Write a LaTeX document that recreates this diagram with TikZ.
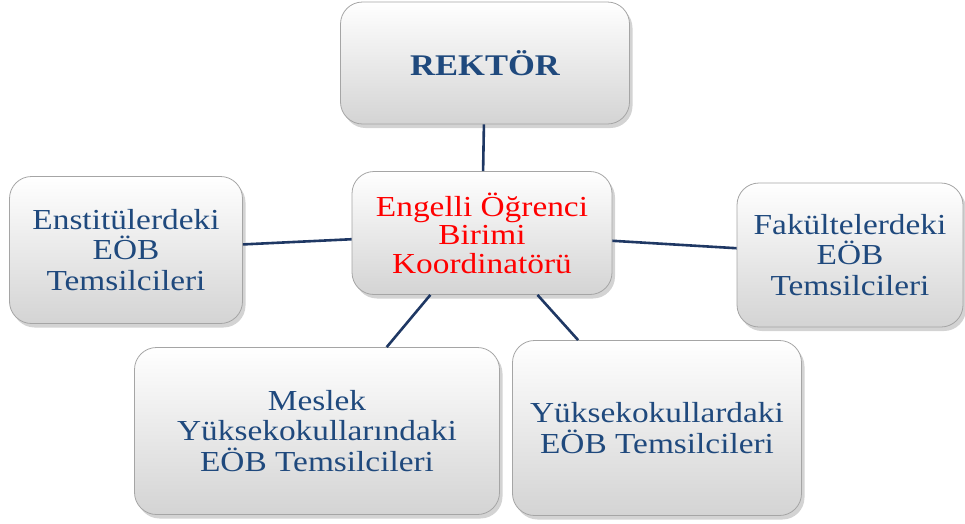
\documentclass[tikz,border=0pt]{standalone}
\usepackage{fontspec}
\setmainfont{Liberation Serif}[FakeStretch=1.15]
\usetikzlibrary{shadows}
\definecolor{txtblue}{RGB}{31,73,125}
\definecolor{linenavy}{RGB}{31,56,100}
\definecolor{boxedge}{RGB}{165,165,165}
\tikzset{
  box/.style={rectangle, rounded corners=22pt, draw=boxedge, line width=0.8pt,
    top color=white, bottom color=black!17, align=center, inner sep=2pt,
    text=txtblue, font=\fontsize{29}{30.5}\selectfont,
    drop shadow={shadow xshift=3pt, shadow yshift=-4pt, opacity=0.35}},
  conn/.style={draw=linenavy, line width=2.6pt}
}
\begin{document}
\begin{tikzpicture}[x=1pt,y=-1pt]
\useasboundingbox (0,0) rectangle (965,523);
\node[box, minimum width=289pt, minimum height=122pt, font=\fontsize{30}{32}\selectfont\bfseries] (r) at (485,63) {REKTÖR};
\node[box, minimum width=260pt, minimum height=123pt, text=red, font=\fontsize{29}{28.5}\selectfont] (c) at (482,233) {Engelli Öğrenci\\Birimi\\Koordinatörü};
\node[box, minimum width=233pt, minimum height=147pt] (l) at (126,250) {Enstitülerdeki\\EÖB\\Temsilcileri};
\node[box, minimum width=226pt, minimum height=144pt] (f) at (850,255) {Fakültelerdeki\\EÖB\\Temsilcileri};
\node[box, minimum width=365pt, minimum height=167pt] (m) at (317,431) {Meslek\\Yüksekokullarındaki\\EÖB Temsilcileri};
\node[box, minimum width=289pt, minimum height=175pt] (y) at (657,428) {Yüksekokullardaki\\EÖB Temsilcileri};
\draw[conn] (r) -- (c);
\draw[conn] (c) -- (l);
\draw[conn] (c) -- (f);
\draw[conn] (c) -- (m);
\draw[conn] (c) -- (y);
\end{tikzpicture}
\end{document}
